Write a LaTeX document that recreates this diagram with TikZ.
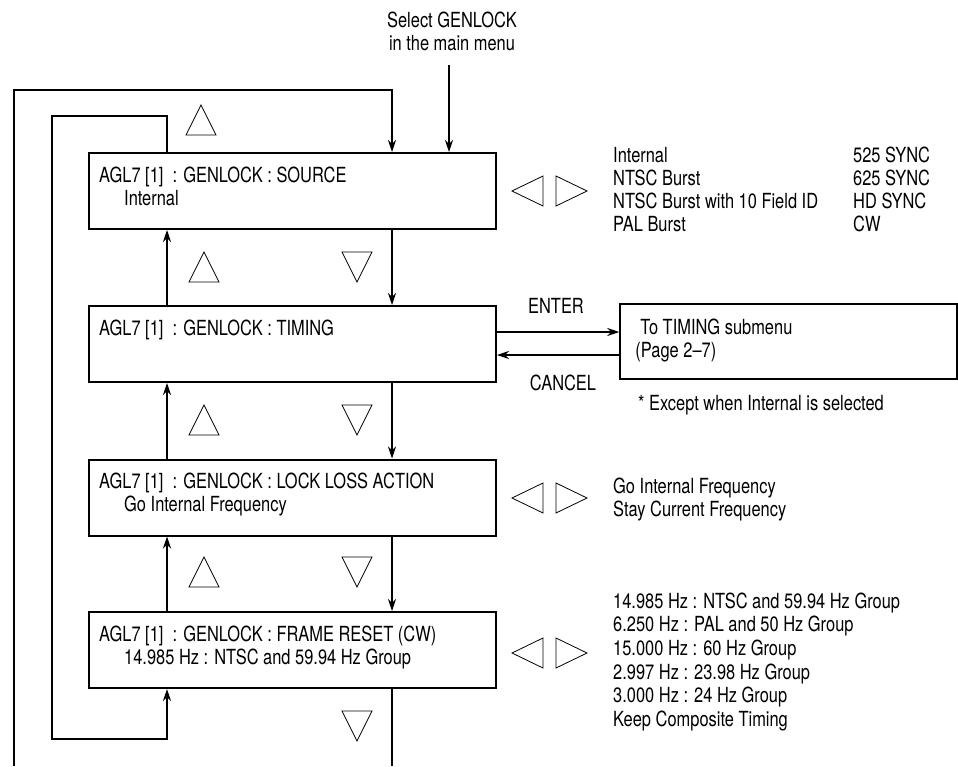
\documentclass[tikz,border=0pt]{standalone}
\usepackage{fontspec}
\setmainfont{TeX Gyre Heros}[FakeStretch=0.79]
\usetikzlibrary{arrows.meta}

\tikzset{
  menubox/.style={draw, line width=2pt, minimum width=407pt, minimum height=76pt, inner sep=0pt},
  subbox/.style={draw, line width=1.5pt, minimum width=337pt, minimum height=75pt, inner sep=0pt},
  txt/.style={anchor=base west, inner sep=0pt, font=\fontsize{20.8}{23}\selectfont},
  ctxt/.style={txt, anchor=base},
  flow/.style={line width=1.1pt, -{Stealth[length=12pt,width=8pt]}},
  tri/.style={line width=0.8pt, line join=miter},
}

\begin{document}
\begin{tikzpicture}[x=1pt, y=-1pt]
    \useasboundingbox (0,0) rectangle (958,766);
    % menu boxes
    \node[menubox] (src) at (292.5,191) {};
    \node[menubox] (tim) at (292.5,344) {};
    \node[menubox] (lck) at (292.5,497.5) {};
    \node[menubox] (frm) at (292.5,650) {};
    \node[subbox] (sub) at (788.5,341.5) {};
    \node[txt] (src1) at ([shift={(11,30)}]src.north west) {AGL7 [1]\ \ : GENLOCK : SOURCE};
    \node[txt] (src2) at ([shift={(36,53)}]src.north west) {Internal};
    \node[txt] (tim1) at ([shift={(11,30)}]tim.north west) {AGL7 [1]\ \ : GENLOCK : TIMING};
    \node[txt] (lck1) at ([shift={(11,30)}]lck.north west) {AGL7 [1]\ \ : GENLOCK : LOCK LOSS ACTION};
    \node[txt] (lck2) at ([shift={(36,53)}]lck.north west) {Go Internal Frequency};
    \node[txt] (frm1) at ([shift={(11,30)}]frm.north west) {AGL7 [1]\ \ : GENLOCK : FRAME RESET (CW)};
    \node[txt] (frm2) at ([shift={(36,53)}]frm.north west) {14.985 Hz : NTSC and 59.94 Hz Group};
    \node[txt] (sub1) at ([shift={(21,31)}]sub.north west) {To TIMING submenu};
    \node[txt] (sub2) at ([shift={(16,54)}]sub.north west) {(Page 2--7)};
    \node[txt] (note) at (638,410) {* Except when Internal is selected};
    \node[ctxt] (sel1) at (452,27) {Select GENLOCK};
    \node[ctxt] (sel2) at (452,50) {in the main menu};

    % option lists
    \foreach \t [count=\i from 0] in {Internal, NTSC Burst, NTSC Burst with 10 Field ID, PAL Burst}
        \node[txt] (srcopt\i) at (613,162+23.3*\i) {\t};
    \foreach \t [count=\i from 0] in {525 SYNC, 625 SYNC, HD SYNC, CW}
        \node[txt] (syncopt\i) at (853,162+23.3*\i) {\t};
    \foreach \t [count=\i from 0] in {Go Internal Frequency, Stay Current Frequency}
        \node[txt] (lckopt\i) at (613,493+23.5*\i) {\t};
    \foreach \t [count=\i from 0] in {14.985 Hz : NTSC and 59.94 Hz Group, 6.250 Hz : PAL and 50 Hz Group,
        15.000 Hz : 60 Hz Group, 2.997 Hz : 23.98 Hz Group, 3.000 Hz : 24 Hz Group, Keep Composite Timing}
        \node[txt] (frmopt\i) at (613,608+23.7*\i) {\t};

    % connectors
    \coordinate (dcol) at (392,0);
    \coordinate (ucol) at (167,0);
    \coordinate (outer) at (14,766);
    \coordinate (outtop) at (14,90);
    \coordinate (intop) at (52,116);
    \coordinate (inbot) at (52,739);
    \coordinate (selarr) at (449,65);
    \draw[flow] (selarr) -- (src.north -| selarr);
    \draw[flow] (outer) -- (outtop) -| (src.north -| dcol);
    \draw[flow] (src.north -| ucol) |- (intop) -- (inbot) -| (frm.south -| ucol);
    \draw[flow] (src.south -| dcol) -- (tim.north -| dcol);
    \draw[flow] (tim.south -| dcol) -- (lck.north -| dcol);
    \draw[flow] (lck.south -| dcol) -- (frm.north -| dcol);
    \draw[line width=1.1pt] (frm.south -| dcol) -- (outer -| dcol);
    \draw[flow] (tim.north -| ucol) -- (src.south -| ucol);
    \draw[flow] (lck.north -| ucol) -- (tim.south -| ucol);
    \draw[flow] (frm.north -| ucol) -- (lck.south -| ucol);
    \draw[flow] ([yshift=12pt]tim.east) -- ([yshift=12pt]tim.east -| sub.west);
    \draw[flow] ([yshift=-11pt]tim.east -| sub.west) -- ([yshift=-11pt]tim.east);
    \node[ctxt] (enter) at (556,313) {ENTER};
    \node[ctxt] (cancel) at (563,390) {CANCEL};

    % key triangles
    \foreach \x/\y in {201/120, 204/267, 204/420, 204/572}
        \draw[tri] (\x-15,\y+15) -- (\x+15,\y+15) -- (\x,\y-15) -- cycle;
    \foreach \y in {267, 420, 572, 726}
        \draw[tri] (342,\y-15) -- (372,\y-15) -- (357,\y+15) -- cycle;
    \foreach \y in {191, 498, 653} {
        \draw[tri] (543,\y-15) -- (543,\y+15) -- (512,\y) -- cycle;
        \draw[tri] (556,\y-15) -- (556,\y+15) -- (587,\y) -- cycle;
    }
\end{tikzpicture}
\end{document}
